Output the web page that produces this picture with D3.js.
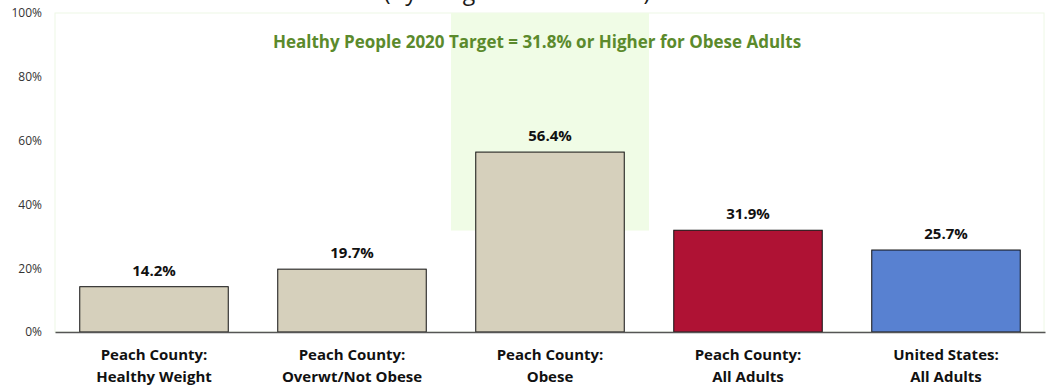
<!DOCTYPE html>
<html>
<head>
<meta charset="utf-8">
<script src="https://cdn.jsdelivr.net/npm/d3@7"></script>
<style>
  html, body { margin: 0; padding: 0; background: #ffffff; }
  svg { display: block; }
</style>
</head>
<body>
<svg id="chart" width="1048" height="387"></svg>
<script>
const categories = [
  ["Peach County:", "Healthy Weight"],
  ["Peach County:", "Overwt/Not Obese"],
  ["Peach County:", "Obese"],
  ["Peach County:", "All Adults"],
  ["United States:", "All Adults"]
];
const values = [0.142, 0.197, 0.564, 0.319, 0.257];
const valueLabels = ["14.2%", "19.7%", "56.4%", "31.9%", "25.7%"];
const barColors = ["#d6d0bc", "#d6d0bc", "#d6d0bc", "#af1234", "#5881d1"];
const yTicks = [0, 0.2, 0.4, 0.6, 0.8, 1.0];
const targetValue = 0.318;
const targetCategoryIndex = 2;
const titleText = "(By Weight Classification)";
const targetText = "Healthy People 2020 Target = 31.8% or Higher for Obese Adults";

(function () {
const svg = d3.select("#chart");
const pLeft = 55, pRight = 1045, pTop = 13, pBottom = 332;
const keys = categories.map((c, i) => i);

const x = d3.scaleBand().domain(keys).range([pLeft, pRight]).paddingInner(0.25).paddingOuter(0.125);
const y = d3.scaleLinear().domain([0, 1]).range([pBottom, pTop]);

const font = "'Open Sans', 'Noto Sans', sans-serif";

// title (partially clipped at the top, as in the reference)
svg.append("text")
  .attr("x", 517).attr("y", 0)
  .attr("text-anchor", "middle")
  .attr("font-family", font)
  .attr("font-size", 23)
  .attr("fill", "#1a1a1a")
  .text(titleText);

// plot border
svg.append("rect")
  .attr("x", pLeft).attr("y", pTop)
  .attr("width", pRight - pLeft - 1).attr("height", pBottom - pTop)
  .attr("fill", "#ffffff")
  .attr("stroke", "#eef8e6").attr("stroke-width", 1);

// target region
const step = x.step();
svg.append("rect")
  .attr("x", x(targetCategoryIndex) - step * x.paddingInner() / 2)
  .attr("y", y(1))
  .attr("width", step)
  .attr("height", y(targetValue) - y(1))
  .attr("fill", "#f0fce6");

// y axis tick labels
const yAxis = d3.axisLeft(y).tickValues(yTicks).tickFormat(d3.format(".0%")).tickSize(0).tickPadding(13);
const gy = svg.append("g").attr("transform", `translate(${pLeft},0)`).call(yAxis);
gy.select(".domain").remove();
gy.selectAll("text").attr("font-family", font).attr("font-size", 12).attr("fill", "#333");

// bars
svg.selectAll("rect.bar").data(values).enter().append("rect")
  .attr("class", "bar")
  .attr("x", (d, i) => x(i))
  .attr("y", d => y(d))
  .attr("width", x.bandwidth())
  .attr("height", d => y(0) - y(d))
  .attr("fill", (d, i) => barColors[i])
  .attr("stroke", "#111").attr("stroke-width", 1);

// value labels
svg.selectAll("text.val").data(values).enter().append("text")
  .attr("class", "val")
  .attr("x", (d, i) => x(i) + x.bandwidth() / 2)
  .attr("y", d => y(d) - 11)
  .attr("text-anchor", "middle")
  .attr("font-family", font).attr("font-weight", "bold").attr("font-size", 15)
  .attr("fill", "#111")
  .text((d, i) => valueLabels[i]);

// x axis
const xAxis = d3.axisBottom(x).tickSize(0).tickFormat("");
const gx = svg.append("g").attr("transform", `translate(0,${pBottom})`).call(xAxis);
gx.select(".domain").attr("stroke", "#555").attr("stroke-width", 1.5);

// category labels
const cat = svg.selectAll("text.cat").data(categories).enter().append("text")
  .attr("class", "cat")
  .attr("text-anchor", "middle")
  .attr("font-family", font).attr("font-weight", "bold").attr("font-size", 15)
  .attr("fill", "#111");
cat.append("tspan").attr("x", (d, i) => x(i) + x.bandwidth() / 2).attr("y", 360).text(d => d[0]);
cat.append("tspan").attr("x", (d, i) => x(i) + x.bandwidth() / 2).attr("y", 382).text(d => d[1]);

// target annotation
svg.append("text")
  .attr("x", 537).attr("y", 48)
  .attr("text-anchor", "middle")
  .attr("font-family", font).attr("font-weight", "bold").attr("font-size", 17)
  .attr("fill", "#5b8a2c")
  .text(targetText);
})();
</script>
</body>
</html>
